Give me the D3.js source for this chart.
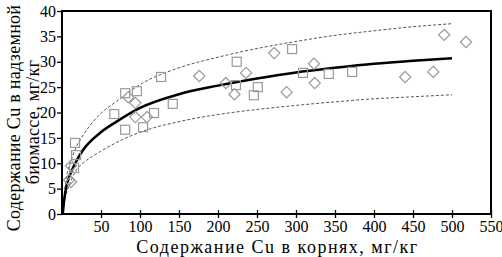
<!DOCTYPE html>
<html>
<head>
<meta charset="utf-8">
<script src="https://cdn.jsdelivr.net/npm/d3@7"></script>
<style>
  body { margin: 0; background: #fff; }
  text { font-family: "Liberation Serif", "Times New Roman", serif; fill: #000; }
</style>
</head>
<body>
<div id="chart"></div>
<script>
// measured points: root Cu (x) vs above-ground Cu (y)
var squares = [
  [16.7, 14.0], [18, 11.6], [15.4, 9.1], [67, 19.7], [81, 16.6], [104, 17.1],
  [81, 23.8], [96, 24.2], [118, 19.9], [127, 27.0], [142, 21.7], [224, 30.0],
  [223, 25.4], [246, 23.4], [251, 25.0], [295, 32.5], [309, 27.8], [342, 27.6], [372, 28.0]
];
var diamonds = [
  [9, 6.7], [11.5, 6.3], [11.5, 9.5], [85, 23.0], [94, 21.9], [94, 19.1], [109, 19.1],
  [176, 27.2], [210, 25.8], [221, 23.6], [236, 27.8], [272, 31.7], [288, 24.0],
  [323, 29.6], [324, 25.8], [440, 27.0], [476, 28.0], [490, 35.3], [518, 33.9]
];
// fitted curve and its bounds
var fitLine = [[1, 0], [3, 3.0], [6, 5.7], [10, 7.6], [17, 10], [27, 12.6], [49, 16], [70, 18.2],
  [100, 20.9], [150, 23.6], [200, 25.3], [250, 26.7], [300, 27.9], [350, 28.8], [400, 29.6],
  [450, 30.2], [500, 30.7]];
var upperLine = [[1, 0], [3, 4], [6, 7.5], [10, 9.8], [17, 12.8], [27, 15.5], [49, 19.7], [70, 22.2],
  [100, 25.5], [150, 28.8], [200, 30.9], [250, 32.6], [300, 34.0], [350, 35.2], [400, 36.1],
  [450, 36.9], [500, 37.5]];
var lowerLine = [[1, 0], [3, 2.3], [6, 4.3], [10, 5.9], [17, 8.4], [27, 10], [49, 12.3], [70, 14.1],
  [100, 16.1], [150, 18.2], [200, 19.6], [250, 20.6], [300, 21.4], [350, 22.1], [400, 22.7],
  [450, 23.1], [500, 23.5]];
var xTicks = [50, 100, 150, 200, 250, 300, 350, 400, 450, 500, 550];
var yTicks = [0, 5, 10, 15, 20, 25, 30, 35, 40];

function init() {
  var w = 502, h = 257;
  var pLeft = 62, pRight = 491, pTop = 11, pBottom = 214;

  var svg = d3.select("#chart").append("svg")
      .attr("width", w)
      .attr("height", h);

  var xScale = d3.scaleLinear().domain([0, 550]).range([pLeft, pRight]);
  var yScale = d3.scaleLinear().domain([0, 40]).range([pBottom, pTop]);

  var line = d3.line()
      .x(function(d) { return xScale(d[0]); })
      .y(function(d) { return yScale(d[1]); })
      .curve(d3.curveMonotoneX);

  //dashed bounds
  [upperLine, lowerLine].forEach(function(l) {
    svg.append("path")
        .datum(l)
        .attr("d", line)
        .attr("fill", "none")
        .attr("stroke", "#555")
        .attr("stroke-width", 1)
        .attr("stroke-dasharray", "3,2");
  });

  //fit
  svg.append("path")
      .datum(fitLine)
      .attr("d", line)
      .attr("fill", "none")
      .attr("stroke", "#000")
      .attr("stroke-width", 2.5);

  //markers
  svg.selectAll(".sq")
      .data(squares)
      .enter().append("rect")
      .attr("x", function(d) { return xScale(d[0]) - 4.5; })
      .attr("y", function(d) { return yScale(d[1]) - 4.5; })
      .attr("width", 9)
      .attr("height", 9)
      .attr("fill", "none")
      .attr("stroke", "#999")
      .attr("stroke-width", 1.2);

  svg.selectAll(".dm")
      .data(diamonds)
      .enter().append("path")
      .attr("d", d3.symbol().type(d3.symbolDiamond2).size(80))
      .attr("transform", function(d) { return "translate(" + xScale(d[0]) + "," + yScale(d[1]) + ")"; })
      .attr("fill", "none")
      .attr("stroke", "#999")
      .attr("stroke-width", 1.2);

  //axes
  var xAxis = d3.axisBottom(xScale).tickValues(xTicks).tickSizeInner(4).tickSizeOuter(0).tickPadding(3);
  var gx = svg.append("g")
      .attr("transform", "translate(0," + pBottom + ")")
      .call(xAxis);
  gx.selectAll(".tick line").attr("y1", -4).attr("stroke-width", 1.3);
  gx.select(".domain").remove();

  var yAxis = d3.axisLeft(yScale).tickValues(yTicks).tickSizeInner(5).tickSizeOuter(0).tickPadding(1);
  var gy = svg.append("g")
      .attr("transform", "translate(" + pLeft + ",0)")
      .call(yAxis);
  gy.selectAll(".tick line").attr("stroke-width", 1.3);
  gy.select(".domain").remove();

  svg.selectAll(".tick text")
      .style("font-family", "'Liberation Serif', serif")
      .style("font-size", "16px");

  //frame
  svg.append("rect")
      .attr("x", pLeft)
      .attr("y", pTop)
      .attr("width", pRight - pLeft)
      .attr("height", pBottom - pTop)
      .attr("fill", "none")
      .attr("stroke", "#000")
      .attr("stroke-width", 2);

  //titles
  svg.append("text")
      .attr("x", (137 + 418) / 2)
      .attr("y", 253)
      .attr("text-anchor", "middle")
      .style("font-size", "18px")
      .style("letter-spacing", "1.5px")
      .text("Содержание Cu в корнях, мг/кг");

  svg.append("text")
      .attr("transform", "translate(20,118) rotate(-90)")
      .attr("text-anchor", "middle")
      .style("font-size", "18px")
      .style("letter-spacing", "0.3px")
      .text("Содержание Cu в надземной");

  svg.append("text")
      .attr("transform", "translate(39,122) rotate(-90)")
      .attr("text-anchor", "middle")
      .style("font-size", "18px")
      .style("letter-spacing", "0.3px")
      .text("биомассе, мг/кг");
}
init();
</script>
</body>
</html>
